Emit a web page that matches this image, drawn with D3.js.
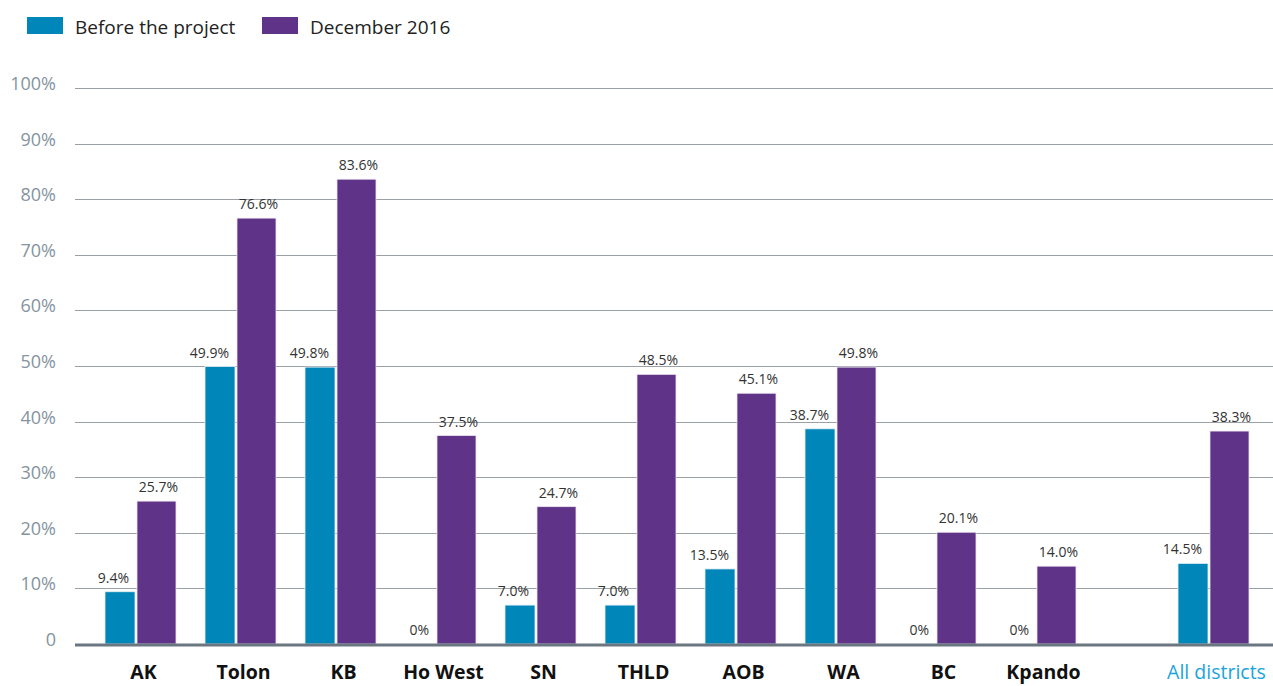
<!DOCTYPE html>
<html lang="en">
<head>
  <meta charset="UTF-8" />
  <title>Before the project vs December 2016</title>
  <style>
    body { margin: 0; background: #fff; }
    svg { display: block; font-family: "Open Sans", "Noto Sans", sans-serif; }
    .grid line { stroke: #9aa1a6; stroke-width: 1.2px; }
    .ytick { fill: #8494a0; font-size: 18px; }
    .val { fill: #333; font-size: 14px; }
    .cat { fill: #111; font-size: 19.5px; font-weight: 700; }
    .cat.total { fill: #1aa3dd; font-weight: 400; }
    .legend text { fill: #222; font-size: 19px; }
  </style>
</head>
<body>
  <svg width="1273" height="686"></svg>

  <script src="https://d3js.org/d3.v7.min.js"></script>
  <script>
    const districts = ["AK", "Tolon", "KB", "Ho West", "SN", "THLD", "AOB", "WA", "BC", "Kpando", "All districts"];
    const beforeProject = [9.4, 49.9, 49.8, 0, 7.0, 7.0, 13.5, 38.7, 0, 0, 14.5];
    const december2016 = [25.7, 76.6, 83.6, 37.5, 24.7, 48.5, 45.1, 49.8, 20.1, 14.0, 38.3];
    const yTicks = [0, 10, 20, 30, 40, 50, 60, 70, 80, 90, 100];
    const seriesNames = ["Before the project", "December 2016"];
    const colors = ["#0086b8", "#5f3387"];

    const svg = d3.select("svg");
    const width = 1273;

    // the "All districts" group sits after a wider gap
    const slot = districts.map((d, i) => i < 10 ? i : 10.73);
    const x = d3.scaleLinear().domain([0, 9]).range([105, 1005]);
    const y = d3.scaleLinear().domain([0, 100]).range([644, 88]);

    const blueW = 30, gap = 2, purpleW = 39;

    // gridlines + y labels
    const grid = svg.append("g").attr("class", "grid");
    grid.selectAll("line")
      .data(yTicks.filter(t => t > 0))
      .join("line")
      .attr("x1", 75).attr("x2", width)
      .attr("y1", d => Math.round(y(d)) + 0.5)
      .attr("y2", d => Math.round(y(d)) + 0.5);

    svg.append("g").selectAll("text")
      .data(yTicks)
      .join("text")
      .attr("class", "ytick")
      .attr("x", 56)
      .attr("y", d => y(d) + 2)
      .attr("text-anchor", "end")
      .text(d => d === 0 ? "0" : d + "%");

    const rows = districts.map((d, i) => ({
      name: d, pos: slot[i], before: beforeProject[i], dec: december2016[i]
    }));

    const grp = svg.append("g").selectAll("g")
      .data(rows)
      .join("g")
      .attr("transform", d => `translate(${x(d.pos)},0)`);

    grp.filter(d => d.before > 0).append("rect")
      .attr("x", 0)
      .attr("width", blueW)
      .attr("y", d => y(d.before))
      .attr("height", d => y(0) - y(d.before))
      .attr("fill", colors[0])
      .attr("stroke", "#e6f2f7").attr("stroke-width", 0.8);

    grp.append("rect")
      .attr("x", blueW + gap)
      .attr("width", purpleW)
      .attr("y", d => y(d.dec))
      .attr("height", d => y(0) - y(d.dec))
      .attr("fill", colors[1])
      .attr("stroke", "#ece6f2").attr("stroke-width", 0.8);

    grp.append("text")
      .attr("class", "val")
      .attr("x", blueW - 6)
      .attr("y", d => y(d.before) - 9)
      .attr("text-anchor", "end")
      .text(d => d.before === 0 ? "0%" : d.before.toFixed(1) + "%");

    grp.append("text")
      .attr("class", "val")
      .attr("x", blueW + gap + purpleW / 2 + 2)
      .attr("y", d => y(d.dec) - 9)
      .attr("text-anchor", "middle")
      .text(d => d.dec.toFixed(1) + "%");

    grp.append("text")
      .attr("class", d => d.name === "All districts" ? "cat total" : "cat")
      .attr("x", (blueW + gap + purpleW) / 2 + 3)
      .attr("y", 679)
      .attr("text-anchor", "middle")
      .text(d => d.name);

    // baseline
    svg.append("line")
      .attr("x1", 75).attr("x2", width)
      .attr("y1", y(0) + 1).attr("y2", y(0) + 1)
      .attr("stroke", "#6b7780").attr("stroke-width", 3);

    // legend
    const legendX = [27, 262];
    const legend = svg.append("g").attr("class", "legend").selectAll("g")
      .data(seriesNames)
      .join("g")
      .attr("transform", (d, i) => `translate(${legendX[i]},17)`);
    legend.append("rect")
      .attr("width", 36).attr("height", 17)
      .attr("fill", (d, i) => colors[i]);
    legend.append("text")
      .attr("x", 48).attr("y", 17)
      .text(d => d);
  </script>
</body>
</html>
